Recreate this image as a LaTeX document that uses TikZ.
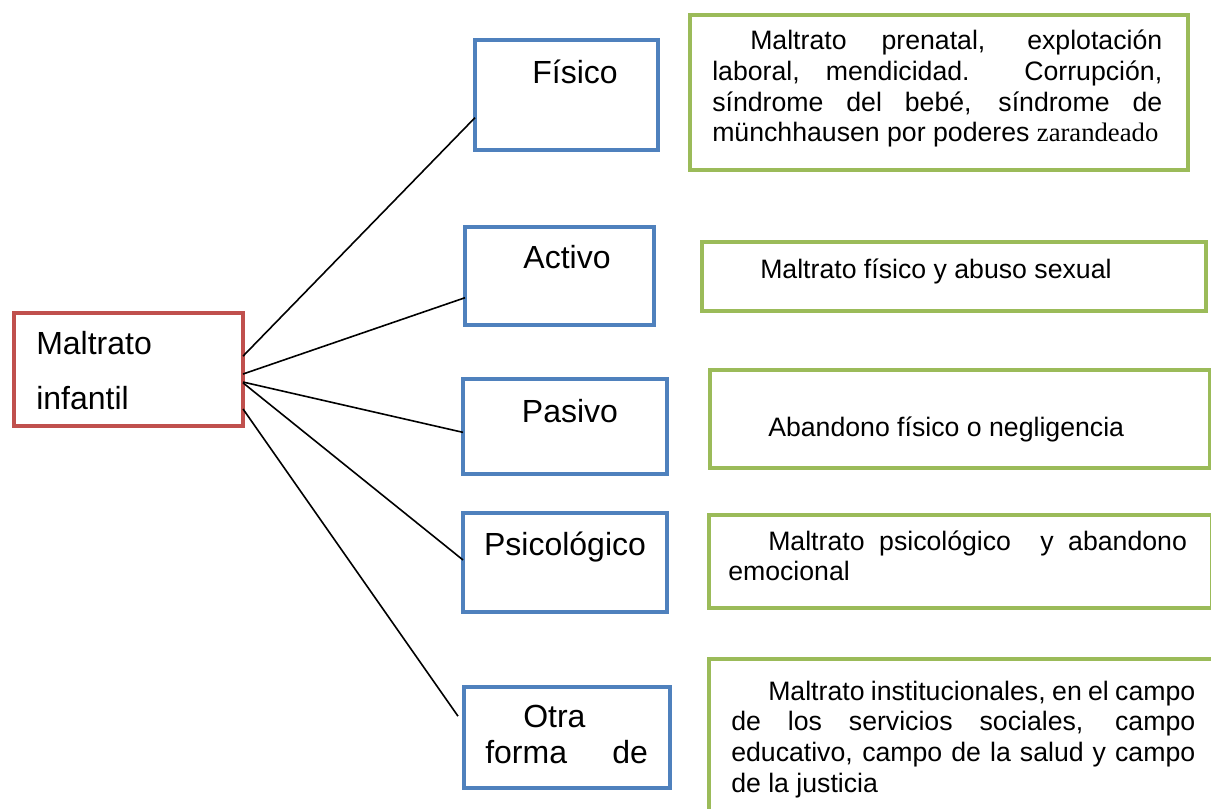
\documentclass[tikz,border=0pt]{standalone}
\usepackage{fontspec}
\setmainfont{Liberation Sans}
\newfontfamily\serifa{Liberation Serif}
\definecolor{rojo}{HTML}{C0504D}
\definecolor{azul}{HTML}{4F81BD}
\definecolor{verde}{HTML}{9BBB59}

\begin{document}
\begin{tikzpicture}[x=0.75pt, y=-0.75pt,
  caja/.style={draw, line width=3.5pt, outer sep=0pt, inner sep=0pt},
  titulo/.style={font=\fontsize{24}{27}\selectfont, inner sep=0pt, anchor=base},
  texto/.style={font=\fontsize{20}{23}\selectfont, inner sep=0pt, anchor=base west},
  parrafo/.style={texto, align=justify},
  linea/.style={line width=1.2pt}]

\clip (0,0) rectangle (1211,809);

% cuadro principal
\node[caja, draw=rojo, minimum width=171.75pt, minimum height=84.75pt] (mi) at (128.5,369.5) {};
\node[titulo, anchor=base west, text width=150pt, align=left, font=\fontsize{24}{41.25}\selectfont] (tmi) at (36,355) {Maltrato\\infantil};

% tipos
\node[caja, draw=azul, minimum width=137.25pt, minimum height=82.5pt] (fis) at (566.5,95) {};
\node[caja, draw=azul, minimum width=141.75pt, minimum height=73.5pt] (act) at (559.5,276) {};
\node[caja, draw=azul, minimum width=153pt, minimum height=71.25pt] (pas) at (565,426.5) {};
\node[caja, draw=azul, minimum width=153pt, minimum height=74.25pt] (psi) at (565,562.5) {};
\node[caja, draw=azul, minimum width=154.5pt, minimum height=75.75pt] (otr) at (567,737.5) {};

\node[titulo] (tfis) at (575,84) {Físico};
\node[titulo] (tact) at (567,269) {Activo};
\node[titulo] (tpas) at (570,422) {Pasivo};
\node[titulo] (tpsi) at (565,555) {Psicológico};
\node[titulo, anchor=base west, text width=122pt, align=justify] (totr) at (485,727) {\hspace*{28.5pt}Otra\linebreak forma\hfill de};

% descripciones
\node[caja, draw=verde, minimum width=373.5pt, minimum height=116.25pt] (g1) at (939,92.5) {};
\node[caja, draw=verde, minimum width=378pt, minimum height=51.75pt] (g2) at (954,276.5) {};
\node[caja, draw=verde, minimum width=375pt, minimum height=73.5pt] (g3) at (960,419) {};
\node[caja, draw=verde, minimum width=377.25pt, minimum height=69.75pt] (g4) at (960.5,561.5) {};
\node[caja, draw=verde, minimum width=390.75pt, minimum height=143.25pt] (g5) at (969.5,754.5) {};

\node[parrafo, text width=337.5pt] (tg1) at (712,50) {\hspace*{28.5pt}Maltrato prenatal, explotación\linebreak laboral, mendicidad. Corrupción,\linebreak síndrome del bebé, síndrome de\linebreak münchhausen por poderes {\serifa zarandeado}};
\node[texto] (tg2) at (760,279) {Maltrato físico y abuso sexual};
\node[texto] (tg3) at (768,436) {Abandono físico o negligencia};
\node[parrafo, text width=344pt] (tg4) at (728,550) {\hspace*{30pt}Maltrato psicológico\ \ y abandono\linebreak emocional};
\node[parrafo, text width=348pt] (tg5) at (731,700) {\hspace*{27.75pt}Maltrato institucionales, en el campo\linebreak de los servicios sociales, campo\linebreak educativo, campo de la salud y campo\linebreak de la justicia};

% lineas
\draw[linea] ([yshift=10pt]mi.east) -- ([yshift=-17pt]fis.west);
\draw[linea] ([yshift=-3.4pt]mi.east) -- ([yshift=-16.3pt]act.west);
\draw[linea] ([yshift=-9.4pt]mi.east) -- ([yshift=-4.4pt]pas.west);
\draw[linea] ([yshift=-10pt]mi.east) -- ([yshift=1.9pt]psi.west);
\draw[linea] ([yshift=-29.6pt]mi.east) -- ([xshift=-4.5pt, yshift=16pt]otr.west);

\end{tikzpicture}
\end{document}
